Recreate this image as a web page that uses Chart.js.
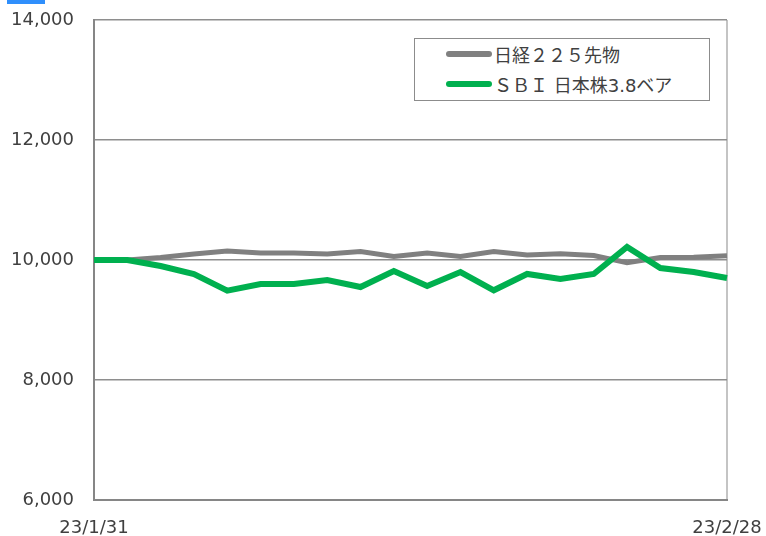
<!DOCTYPE html>
<html><head><meta charset="utf-8">
<script src="https://cdn.jsdelivr.net/npm/chart.js@4/dist/chart.umd.min.js"></script>
<style>
html,body{margin:0;padding:0;background:#fff;}
#wrap{position:relative;width:766px;height:536px;}
#blue{position:absolute;left:7px;top:0;width:38px;height:4px;background:#2f8ffc;}
#legend{position:absolute;left:414px;top:38px;width:296px;height:63px;border:1px solid #8c8c8c;box-sizing:border-box;background:#fff;font-family:"DejaVu Sans","Noto Sans CJK JP",sans-serif;font-size:18px;color:#404040;}
.item{position:absolute;left:31px;height:20px;display:flex;align-items:center;white-space:pre;}
.sw{width:46px;height:6px;border-radius:3px;margin-right:2px;}
</style></head>
<body>
<div id="wrap">
<canvas id="c" width="766" height="536"></canvas>
<div id="blue"></div>
<div id="legend"></div>
</div>
<script>
const categories = ["23/1/31","23/2/1","23/2/2","23/2/3","23/2/6","23/2/7","23/2/8","23/2/9","23/2/10","23/2/13","23/2/14","23/2/15","23/2/16","23/2/17","23/2/20","23/2/21","23/2/22","23/2/24","23/2/27","23/2/28"];
const nikkeiName = "日経２２５先物";
const nikkei = [10000,10000,10040,10100,10150,10117,10117,10100,10140,10060,10117,10060,10140,10083,10105,10075,9955,10040,10045,10070];
const bearName = "ＳＢＩ 日本株3.8ベア";
const bear = [10000,10000,9900,9767,9490,9600,9600,9667,9550,9817,9567,9800,9495,9767,9683,9767,10217,9867,9800,9700];
const yTicks = [6000,8000,10000,12000,14000];

const colors = {nikkei:"#808080", bear:"#00b04f"};

const legend = document.getElementById('legend');
[[nikkeiName, colors.nikkei, 5],[bearName, colors.bear, 35]].forEach(([t,c,top])=>{
  const d=document.createElement('div');d.className='item';d.style.top=top+'px';
  const s=document.createElement('div');s.className='sw';s.style.background=c;
  const l=document.createElement('span');l.textContent=t;
  d.appendChild(s);d.appendChild(l);legend.appendChild(d);
});

const font = {family:"'DejaVu Sans', Verdana, sans-serif", size:18};
new Chart(document.getElementById('c'), {
  type:'line',
  data:{labels:categories, datasets:[
    {label:bearName, data:bear, borderColor:colors.bear, borderWidth:6, pointRadius:0, tension:0, order:0, borderCapStyle:'butt', borderJoinStyle:'miter'},
    {label:nikkeiName, data:nikkei, borderColor:colors.nikkei, borderWidth:5, pointRadius:0, tension:0, order:1, borderJoinStyle:'miter'}
  ]},
  options:{
    responsive:false, animation:false,
    layout:{padding:{top:20,right:39,left:0,bottom:0}},
    plugins:{legend:{display:false}, tooltip:{enabled:false}},
    scales:{
      x:{
        offset:false,
        grid:{drawTicks:false, color:(ctx)=> ctx.index===categories.length-1 ? '#c4c4c4' : 'rgba(0,0,0,0)', lineWidth:2},
        border:{color:'#868686', width:2},
        ticks:{autoSkip:false, maxRotation:0, padding:18, color:'#404040', font,
          callback:(v,i)=> (i===0||i===categories.length-1)? categories[i] : ''},
        afterFit:(s)=>{s.height=36; s.paddingLeft=0; s.paddingRight=0;}
      },
      y:{
        min:6000,max:14000,
        afterBuildTicks:(s)=>{s.ticks = yTicks.map(v=>({value:v}));},
        grid:{drawTicks:false, color:'#8e8e8e', lineWidth:1.5},
        border:{color:'#868686', width:2},
        ticks:{padding:20, color:'#404040', font, callback:(v)=>v.toLocaleString('en-US')},
        afterFit:(s)=>{s.width=94; s.paddingTop=0; s.paddingBottom=0;}
      }
    }
  }
});
</script>
</body></html>
